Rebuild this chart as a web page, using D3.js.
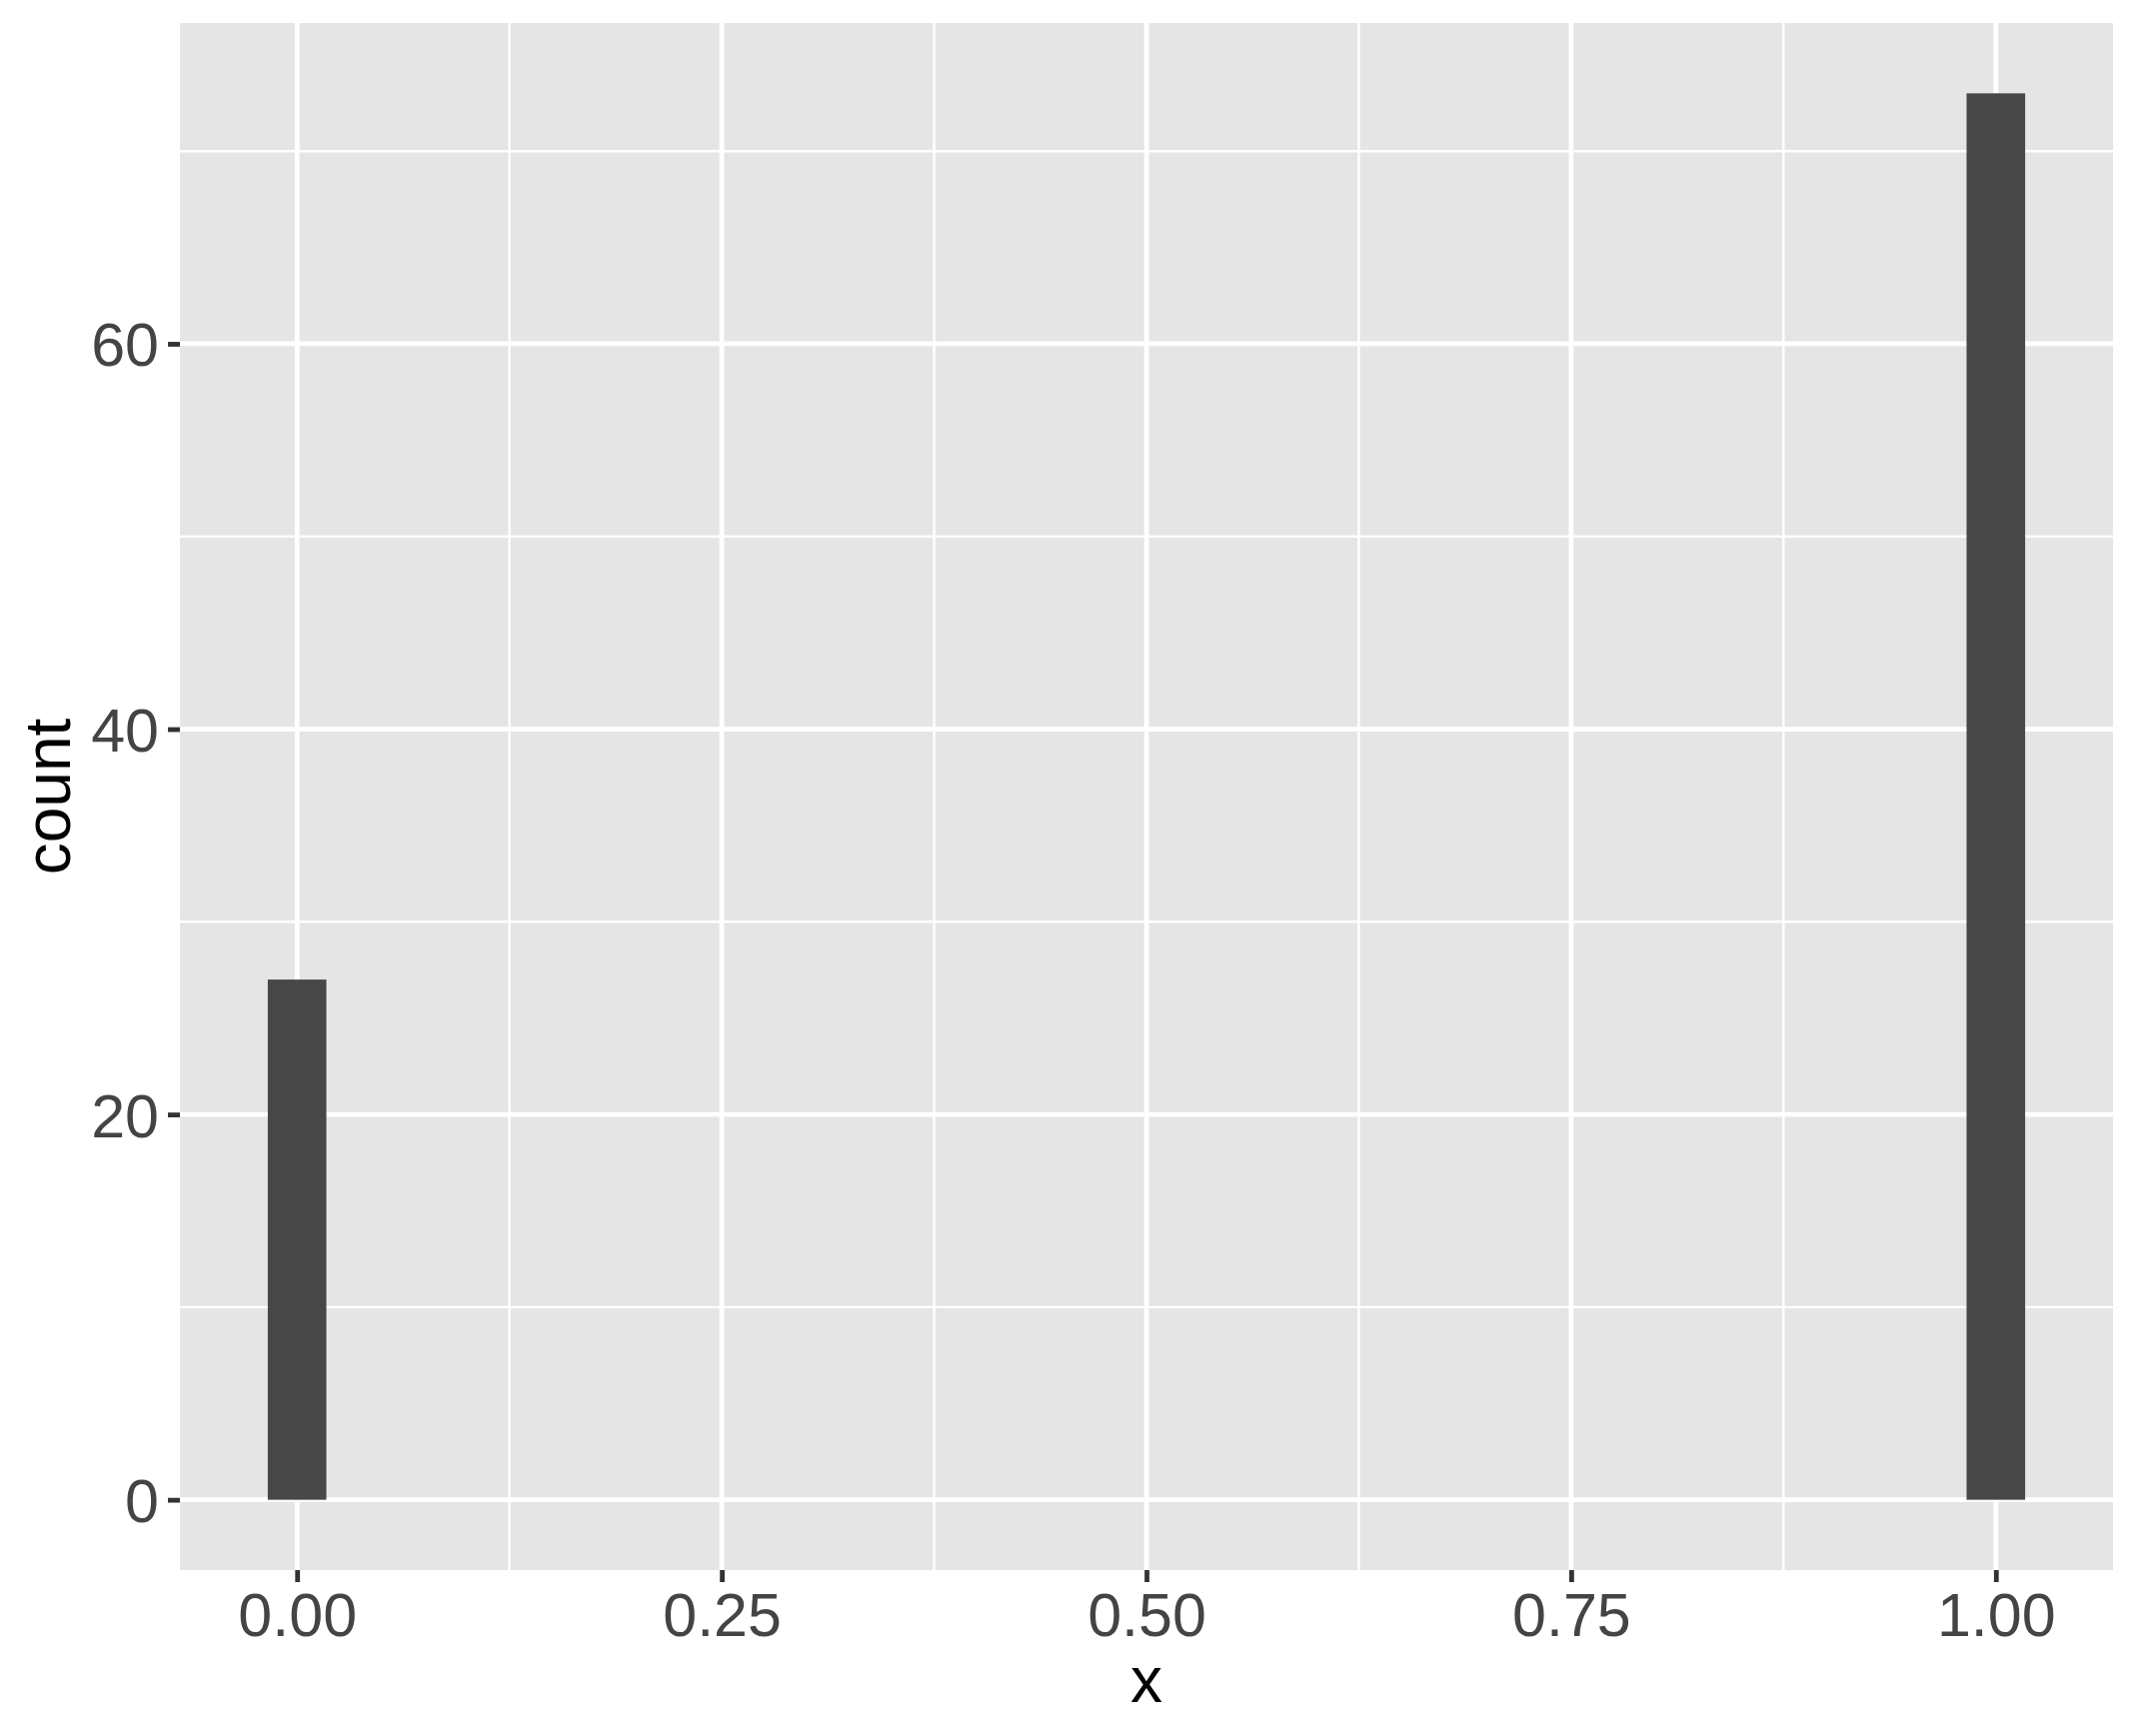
<!DOCTYPE html>
<html>
<head>
<meta charset="utf-8">
<script src="https://cdn.jsdelivr.net/npm/d3@7"></script>
<style>
  html, body { margin: 0; padding: 0; background: #ffffff; }
  svg { display: block; }
</style>
</head>
<body>
<script>
// ---- data ----
const binCenters = [0, 1];
const binCounts = [27, 73];
const nBins = 30;                       // ggplot default bins
const xTickValues = [0, 0.25, 0.5, 0.75, 1];
const xTickLabels = ["0.00", "0.25", "0.50", "0.75", "1.00"];
const yTickValues = [0, 20, 40, 60];
const yTickLabels = ["0", "20", "40", "60"];
const xMinorValues = [0.125, 0.375, 0.625, 0.875];
const yMinorValues = [10, 30, 50, 70];
const xTitle = "x";
const yTitle = "count";

// ---- layout ----
const W = 2137, H = 1737;
const panel = { left: 180, right: 2114, top: 23, bottom: 1571 };
const font = "'Liberation Sans', Arial, Helvetica, sans-serif";

const binWidth = 1 / (nBins - 1);
const dataMinX = d3.min(binCenters) - binWidth / 2;
const dataMaxX = d3.max(binCenters) + binWidth / 2;
const padX = (dataMaxX - dataMinX) * 0.05;
const dataMaxY = d3.max(binCounts);
const padY = dataMaxY * 0.05;

const x = d3.scaleLinear()
  .domain([dataMinX - padX, dataMaxX + padX])
  .range([panel.left, panel.right]);
const y = d3.scaleLinear()
  .domain([0 - padY, dataMaxY + padY])
  .range([panel.bottom, panel.top]);

const svg = d3.select("body").append("svg")
  .attr("width", W).attr("height", H)
  .style("font-family", font);

svg.append("rect").attr("width", W).attr("height", H).attr("fill", "#ffffff");

// panel background
svg.append("rect")
  .attr("x", panel.left).attr("y", panel.top)
  .attr("width", panel.right - panel.left)
  .attr("height", panel.bottom - panel.top)
  .attr("fill", "#E5E5E5");

const grid = svg.append("g");
// minor grid
grid.selectAll("line.xminor").data(xMinorValues).join("line")
  .attr("x1", d => x(d)).attr("x2", d => x(d))
  .attr("y1", panel.top).attr("y2", panel.bottom)
  .attr("stroke", "#ffffff").attr("stroke-width", 2.4);
grid.selectAll("line.yminor").data(yMinorValues).join("line")
  .attr("y1", d => y(d)).attr("y2", d => y(d))
  .attr("x1", panel.left).attr("x2", panel.right)
  .attr("stroke", "#ffffff").attr("stroke-width", 2.4);
// major grid
grid.selectAll("line.xmajor").data(xTickValues).join("line")
  .attr("x1", d => x(d)).attr("x2", d => x(d))
  .attr("y1", panel.top).attr("y2", panel.bottom)
  .attr("stroke", "#ffffff").attr("stroke-width", 4.8);
grid.selectAll("line.ymajor").data(yTickValues).join("line")
  .attr("y1", d => y(d)).attr("y2", d => y(d))
  .attr("x1", panel.left).attr("x2", panel.right)
  .attr("stroke", "#ffffff").attr("stroke-width", 4.8);

// bars
svg.append("g").selectAll("rect").data(binCenters).join("rect")
  .attr("x", (d) => x(d - binWidth / 2))
  .attr("width", (d) => x(d + binWidth / 2) - x(d - binWidth / 2))
  .attr("y", (d, i) => y(binCounts[i]))
  .attr("height", (d, i) => y(0) - y(binCounts[i]))
  .attr("fill", "#474747");

// x axis
const xAxis = d3.axisBottom(x)
  .tickValues(xTickValues)
  .tickFormat((d, i) => xTickLabels[i])
  .tickSize(12)
  .tickPadding(8);
const gx = svg.append("g")
  .attr("transform", `translate(0,${panel.bottom})`)
  .call(xAxis);
gx.select(".domain").remove();
gx.selectAll(".tick line").attr("stroke", "#333333").attr("stroke-width", 4.8);
gx.selectAll(".tick text")
  .attr("fill", "#444444")
  .style("font-size", "61px")
  .style("font-family", font)
  .attr("dy", null)
  .attr("y", 66);

// y axis
const yAxis = d3.axisLeft(y)
  .tickValues(yTickValues)
  .tickFormat((d, i) => yTickLabels[i])
  .tickSize(12)
  .tickPadding(10);
const gy = svg.append("g")
  .attr("transform", `translate(${panel.left},0)`)
  .call(yAxis);
gy.select(".domain").remove();
gy.selectAll(".tick line").attr("stroke", "#333333").attr("stroke-width", 4.8);
gy.selectAll(".tick text")
  .attr("fill", "#444444")
  .style("font-size", "61px")
  .style("font-family", font)
  .attr("x", -21)
  .attr("dy", "0.36em");

// titles
svg.append("text")
  .attr("x", (panel.left + panel.right) / 2)
  .attr("y", 1703)
  .attr("text-anchor", "middle")
  .attr("fill", "#000000")
  .style("font-size", "64px")
  .text(xTitle);

svg.append("text")
  .attr("transform", `translate(69.5,${(panel.top + panel.bottom) / 2}) rotate(-90)`)
  .attr("text-anchor", "middle")
  .attr("fill", "#000000")
  .style("font-size", "64px")
  .text(yTitle);
</script>
</body>
</html>
